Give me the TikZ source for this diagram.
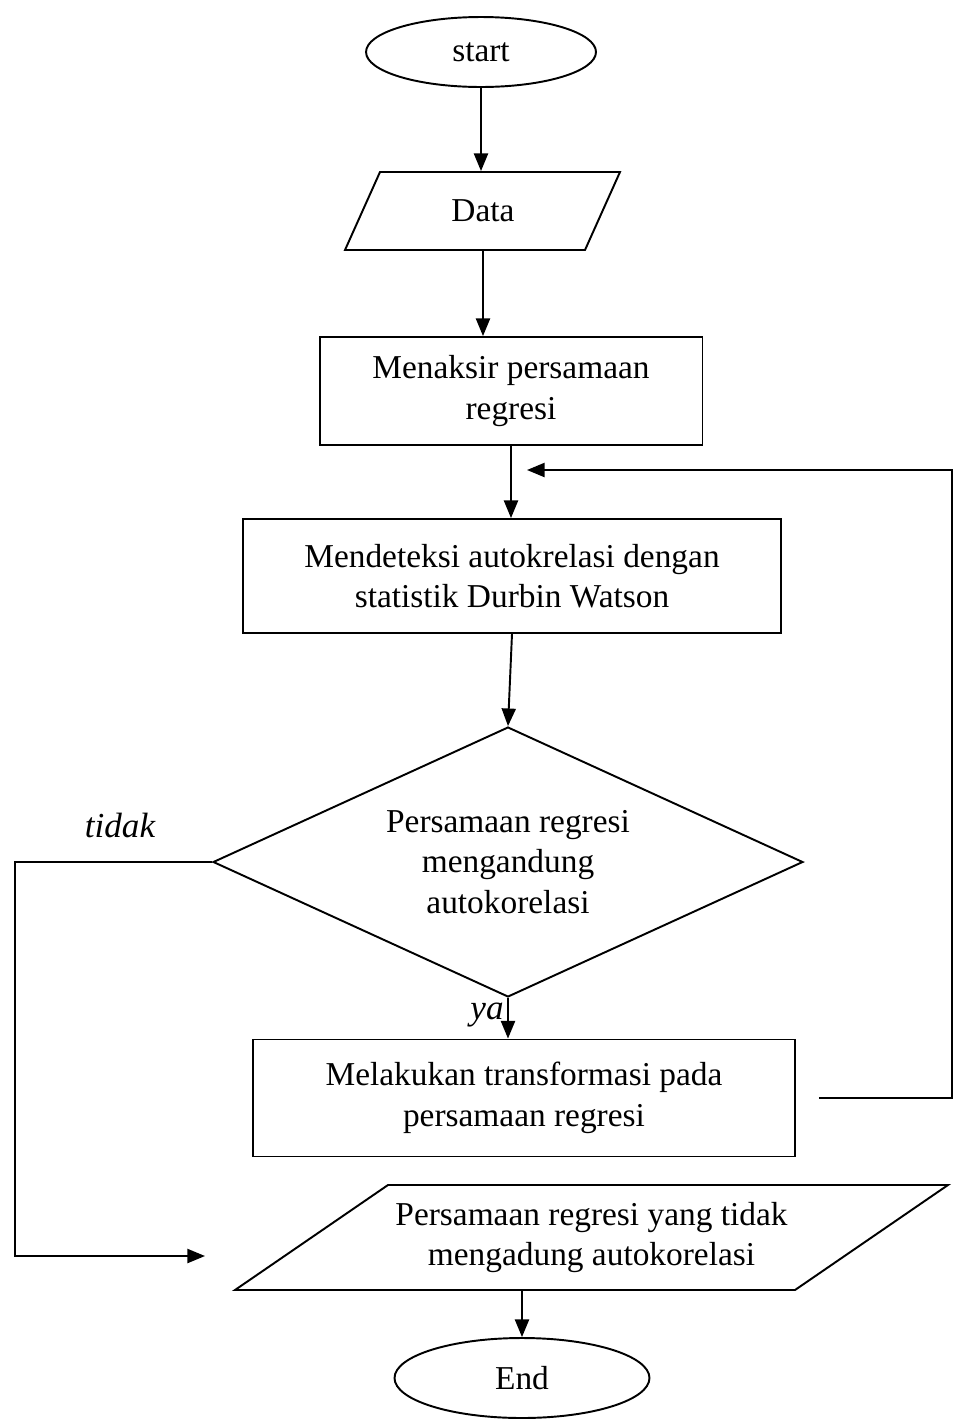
\documentclass[tikz,border=0pt]{standalone}
\usepackage{fontspec}
\setmainfont{Liberation Serif}
\usetikzlibrary{arrows.meta,shapes.geometric,calc}
\begin{document}
\begin{tikzpicture}[x=0.02cm,y=-0.02cm,
  line width=1.1pt,
  arr/.style={-{Triangle[length=10pt,width=8pt]}},
  txt/.style={font=\fontsize{19}{23}\selectfont, align=center},
  procbox/.style={draw, rectangle, txt, inner sep=0pt},
  term/.style={draw, ellipse, txt, inner sep=0pt},
  decis/.style={draw, diamond, aspect=2.19, txt, inner sep=0pt},
  lbl/.style={font=\fontsize{20}{24}\selectfont\itshape}]
\useasboundingbox (0,0) rectangle (958,1428);

% nodes
\node[term, minimum width=4.6cm, minimum height=1.4cm] (start) at (481,52) {start};

\node[txt, minimum width=5.5cm, minimum height=1.56cm, inner sep=0pt] (data) at (483,211) {Data};
\draw (380,172) -- (620,172) -- (585,250) -- (345,250) -- cycle;

\node[procbox, minimum width=7.66cm, minimum height=2.16cm] (m1) at (511,391)
  {Menaksir persamaan\\regresi};

\node[procbox, minimum width=10.76cm, minimum height=2.28cm] (m2) at (512,576)
  {Mendeteksi autokrelasi dengan\\statistik Durbin Watson};

\node[decis, minimum width=11.8cm, minimum height=5.4cm] (dia) at (508,862)
  {Persamaan regresi\\mengandung\\autokorelasi};

\node[procbox, minimum width=10.84cm, minimum height=2.34cm] (tr) at (524,1098)
  {Melakukan transformasi pada\\persamaan regresi};

\node[txt, minimum width=14.26cm, minimum height=2.1cm, inner sep=0pt] (out) at (591.5,1237.5)
  {Persamaan regresi yang tidak\\mengadung autokorelasi};
\draw (388,1185) -- (948,1185) -- (795,1290) -- (235,1290) -- cycle;

\node[term, minimum width=5.1cm, minimum height=1.6cm] (end) at (522,1378) {End};

% labels
\node[lbl] (tidak) at (120,825) {tidak};
\node[lbl] (ya) at (487,1015) {ya};

% helper coordinates
\coordinate (L1) at (15,870);
\coordinate (L2) at (15,1256);
\coordinate (inend) at (205,1256);
\coordinate (R) at (952,470);
\coordinate (fbend) at (527,470);

% connectors
\draw[arr] (start.south) -- (start.south |- data.north);
\draw[arr] (data.south) -- (data.south |- m1.north);
\draw[arr] (m1.south) -- (m1.south |- m2.north);
\draw[arr] (m2.south) -- (dia.north);
\draw[arr] (dia.south) -- (dia.south |- tr.north);
\draw[arr] (dia.west) -- (dia.west -| L1) -- (L2) -- (inend);
\draw[arr] ($(tr.east)+(23,0)$) -- (tr.east -| R) -- (R) -- (fbend);
\draw[arr] (end.north |- out.south) -- (end.north);
\end{tikzpicture}
\end{document}
